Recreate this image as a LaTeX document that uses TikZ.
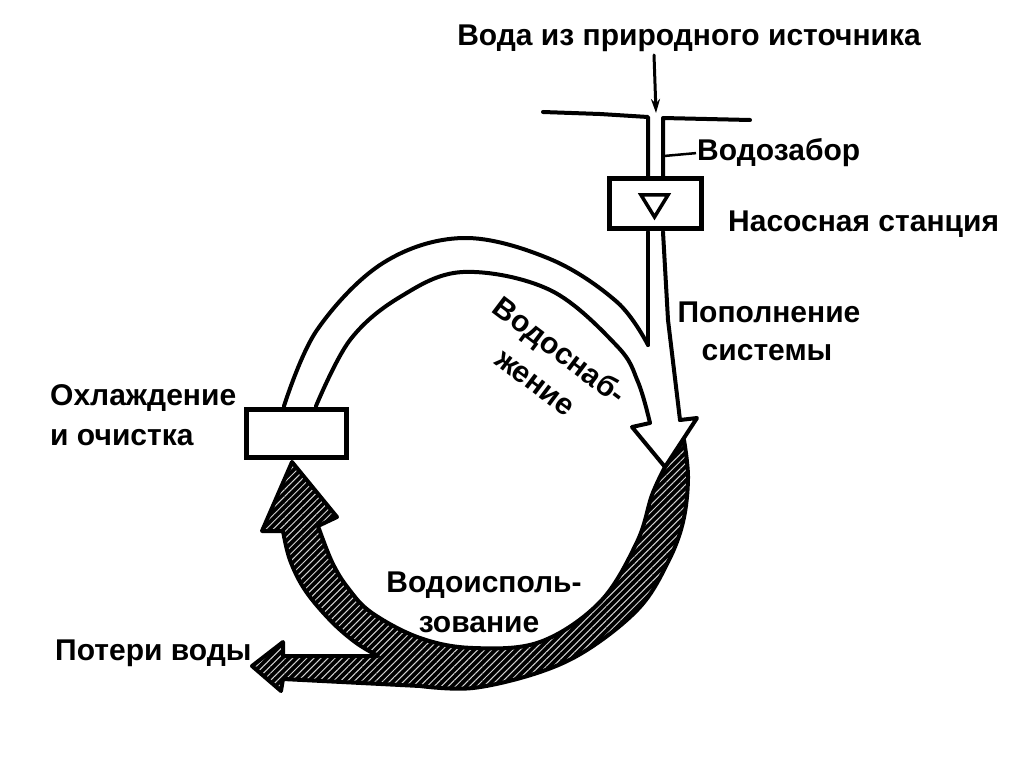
\documentclass[tikz,border=0pt]{standalone}
\usepackage{fontspec}
\setmainfont{Liberation Sans}
\usetikzlibrary{patterns.meta,arrows.meta}
\begin{document}
\begin{tikzpicture}[x=1pt,y=-1pt,
  ink/.style={line width=4pt, line join=round, line cap=round},
  thinink/.style={line width=3pt, line cap=round},
  lbl/.style={font=\fontsize{30}{40}\selectfont\bfseries, inner sep=0pt},
  hatch/.style={preaction={fill=black}, pattern={Lines[angle=45,distance=5pt,line width=1pt]}, pattern color=gray!35}
]
\useasboundingbox[fill=white] (0,0) rectangle (1024,767);

% ---- dark (used water) band with return arrow and loss arrow
\filldraw[ink, hatch] (292,462) -- (337,517) -- (318,526)
  -- plot[smooth, tension=0.6] coordinates {(318,526) (332,562) (348,588) (372,613) (420,638) (473,648) (540,642) (600,602) (637,542) (652,495) (665,467)}
  -- (684,440)
  -- plot[smooth, tension=0.6] coordinates {(684,440) (688,478) (683,522) (668,562) (640,607) (590,648) (540,672) (473,688) (420,686)}
  -- (283,679) -- (281,691) -- (252,666) -- (283,642) -- (283,656) -- (378,656)
  -- plot[smooth, tension=0.6] coordinates {(378,656) (355,642) (330,620) (305,590) (290,560) (283,531)}
  -- (262,531) -- cycle;

% ---- white supply arrow
\draw[ink] plot[smooth, tension=0.6] coordinates {(284,406) (317,330) (383,263) (463,238) (550,259) (617,302) (648,345)};
\draw[ink] plot[smooth, tension=0.6] coordinates {(316,406) (350,340) (400,297) (463,272) (550,290) (617,346) (638,382) (650,423)};
\filldraw[ink, fill=white] (650,423) -- (632,427) -- (665,467) -- (697,418) -- (680,420);
\draw[ink] (680,420) -- (668,320) -- (663,232);
\draw[ink] (648,232) -- (648,345);

% ---- intake
\draw[ink] (543,112) -- (600,114) -- (648,117) -- (648,177);
\draw[ink] (750,120) -- (663,118) -- (663,177);
\draw[thinink, -{Stealth[length=14pt,width=9pt]}] (654,55) -- (656,113);

% ---- pumping station
\node[draw, line width=5pt, minimum width=92pt, minimum height=50pt, inner sep=0pt] (pump) at (655.5,203.5) {};
\filldraw[line width=3.5pt, line join=miter, fill=white] (641,195) -- (668,195) -- (654.5,217) -- cycle;

% ---- cooling and treatment box
\node[draw, line width=5pt, fill=white, minimum width=100pt, minimum height=48pt, inner sep=0pt] (cool) at (296.5,433) {};

% ---- labels
\node[lbl, anchor=base] (src) at (689,46) {Вода из природного источника};
\node[lbl, anchor=base west] (wz) at (697,161) {Водозабор};
\coordinate (wzpipe) at (664,156);
\draw[line width=2.5pt] (wzpipe) -- ([xshift=-1pt]wz.west);
\node[lbl, anchor=base west] (ns) at (728,232) {Насосная станция};
\node[lbl, anchor=base] (pp1) at (769,322) {Пополнение};
\node[lbl, anchor=base] (pp2) at (767,360) {системы};
\node[lbl, anchor=base west] (oh1) at (50,405) {Охлаждение};
\node[lbl, anchor=base west] (oh2) at (50,445) {и очистка};
\node[lbl, anchor=base] (vi1) at (484,592) {Водоисполь-};
\node[lbl, anchor=base] (vi2) at (479,632) {зование};
\node[lbl, anchor=base west] (pt) at (55,660) {Потери воды};
\node[lbl, align=center, rotate=-37] (vs) at (548,366) {Водоснаб-\\жение};
\end{tikzpicture}
\end{document}
